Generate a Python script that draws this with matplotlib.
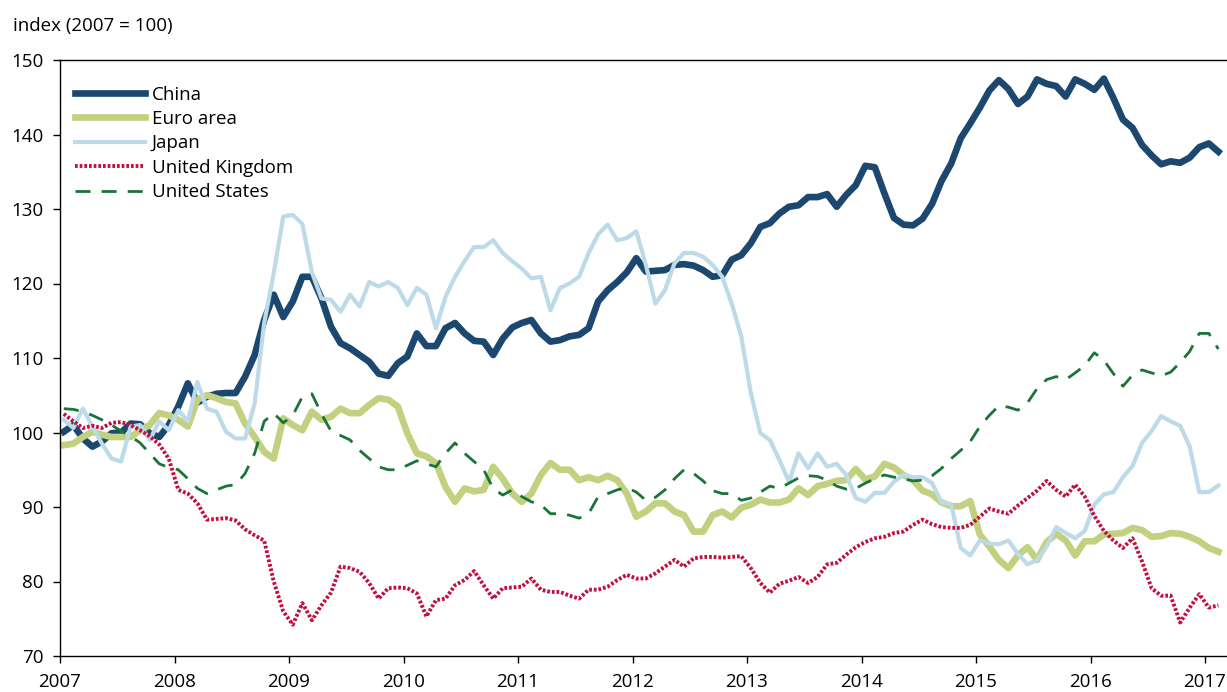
import numpy as np
import matplotlib.pyplot as plt

plt.rcParams['font.family'] = ['Open Sans', 'DejaVu Sans']

# monthly index values, Jan 2007 .. Feb 2017 (2007 = 100)
china = [100.1, 101.0, 99.2, 98.1, 98.8, 99.9, 100.0, 101.2, 101.1, 99.9, 99.4, 101.0,
         103.5, 106.6, 104.0, 104.8, 105.2, 105.3, 105.3, 107.5, 110.4, 115.1, 118.5, 115.5,
         117.6, 120.9, 120.9, 118.0, 114.2, 112.0, 111.3, 110.4, 109.5, 107.9, 107.6, 109.3,
         110.2, 113.3, 111.6, 111.6, 114.0, 114.7, 113.3, 112.3, 112.2, 110.4, 112.6, 114.1,
         114.7, 115.1, 113.3, 112.2, 112.4, 112.9, 113.1, 114.0, 117.6, 119.1, 120.2, 121.5,
         123.4, 121.6, 121.7, 121.8, 122.5, 122.6, 122.4, 121.8, 120.9, 121.1, 123.2, 123.8,
         125.4, 127.6, 128.1, 129.4, 130.3, 130.5, 131.6, 131.6, 132.0, 130.3, 131.9, 133.2,
         135.8, 135.6, 132.1, 128.8, 127.9, 127.8, 128.7, 130.7, 133.8, 136.1, 139.5, 141.5,
         143.6, 145.9, 147.3, 146.1, 144.1, 145.1, 147.4, 146.8, 146.5, 145.1, 147.4, 146.8,
         146.0, 147.5, 144.9, 142.0, 140.9, 138.6, 137.2, 136.0, 136.4, 136.2, 136.9, 138.3,
         138.8, 137.7]

euro = [98.3, 98.5, 99.4, 100.1, 99.7, 99.4, 99.4, 99.4, 100.3, 101.0, 102.6, 102.3,
        101.7, 100.8, 104.4, 105.0, 104.6, 104.1, 103.9, 101.2, 99.4, 97.4, 96.5, 101.9,
        101.0, 100.3, 102.8, 101.7, 102.1, 103.2, 102.6, 102.6, 103.7, 104.6, 104.4, 103.5,
        99.9, 97.2, 96.8, 95.9, 92.7, 90.7, 92.5, 92.1, 92.3, 95.4, 93.8, 91.8,
        90.7, 91.8, 94.3, 95.9, 95.0, 95.0, 93.6, 94.0, 93.6, 94.2, 93.6, 91.8,
        88.7, 89.4, 90.5, 90.5, 89.4, 88.9, 86.7, 86.7, 88.9, 89.4, 88.6, 89.9,
        90.3, 91.0, 90.6, 90.6, 91.0, 92.5, 91.6, 92.8, 93.1, 93.5, 93.6, 95.1,
        93.7, 94.1, 95.8, 95.3, 94.3, 93.6, 92.2, 91.7, 90.6, 90.1, 90.1, 90.8,
        86.3, 84.7, 82.9, 81.8, 83.5, 84.6, 82.9, 85.3, 86.4, 85.5, 83.5, 85.4,
        85.4, 86.3, 86.4, 86.5, 87.2, 86.9, 86.0, 86.1, 86.5, 86.4, 86.0, 85.4,
        84.5, 84.0]

japan = [101.7, 100.6, 103.2, 100.8, 98.5, 96.5, 96.1, 100.8, 101.0, 99.0, 101.5, 100.3,
         103.0, 101.5, 106.8, 103.2, 102.8, 100.1, 99.2, 99.2, 103.9, 114.7, 121.4, 129.0,
         129.2, 128.0, 121.5, 118.0, 117.8, 116.2, 118.5, 116.9, 120.2, 119.6, 120.2, 119.4,
         117.1, 119.4, 118.5, 114.0, 118.2, 120.9, 123.0, 124.9, 124.9, 125.8, 124.1, 123.0,
         122.0, 120.7, 120.9, 116.4, 119.4, 120.0, 120.9, 124.1, 126.6, 127.9, 125.8, 126.1,
         127.0, 122.5, 117.3, 119.1, 122.7, 124.1, 124.1, 123.6, 122.5, 120.9, 117.3, 112.9,
         105.3, 99.9, 99.0, 96.3, 93.4, 97.2, 95.2, 97.2, 95.4, 95.8, 94.3, 91.2,
         90.7, 91.9, 91.9, 93.4, 94.3, 94.0, 94.0, 93.2, 90.6, 90.4, 84.5, 83.5,
         85.5, 85.1, 85.0, 85.5, 83.7, 82.3, 82.9, 84.7, 87.3, 86.5, 85.8, 86.8,
         90.3, 91.7, 92.0, 94.0, 95.5, 98.6, 100.2, 102.2, 101.5, 100.9, 98.1, 92.0,
         92.0, 92.9]

uk = [102.5, 101.5, 100.6, 100.9, 100.6, 101.3, 101.4, 101.0, 100.3, 99.5, 98.4, 96.5,
      92.3, 91.8, 90.5, 88.3, 88.4, 88.5, 88.2, 87.0, 86.2, 85.5, 80.0, 76.0,
      74.2, 77.1, 74.8, 76.8, 78.5, 82.0, 81.8, 81.3, 79.8, 77.7, 79.1, 79.2,
      79.1, 78.4, 75.3, 77.5, 77.7, 79.5, 80.2, 81.4, 79.5, 77.7, 79.1, 79.2,
      79.3, 80.4, 78.9, 78.6, 78.6, 78.1, 77.7, 78.9, 78.9, 79.3, 80.2, 80.9,
      80.4, 80.4, 81.1, 82.0, 82.9, 82.0, 83.1, 83.3, 83.3, 83.2, 83.3, 83.4,
      81.8, 79.8, 78.5, 79.7, 80.1, 80.6, 79.8, 80.6, 82.3, 82.5, 83.6, 84.6,
      85.3, 85.8, 86.0, 86.5, 86.7, 87.6, 88.3, 87.7, 87.3, 87.2, 87.2, 87.6,
      88.7, 89.8, 89.4, 89.1, 90.2, 91.2, 92.2, 93.5, 92.3, 91.4, 93.0, 91.4,
      88.8, 86.8, 85.5, 84.5, 85.8, 82.7, 79.1, 78.1, 78.1, 74.5, 76.5, 78.3,
      76.5, 76.8]

us = [103.2, 103.1, 102.8, 102.3, 101.7, 101.0, 100.2, 99.5, 98.6, 97.2, 95.8, 95.3,
      95.0, 93.8, 92.5, 91.8, 92.3, 92.8, 93.0, 94.5, 97.2, 101.5, 102.6, 101.3,
      102.3, 104.8, 105.2, 102.5, 100.2, 99.6, 99.0, 97.6, 96.5, 95.4, 95.0, 95.0,
      95.6, 96.2, 95.8, 95.4, 97.2, 98.6, 97.2, 96.1, 95.0, 92.5, 91.6, 92.3,
      91.4, 90.7, 90.3, 89.1, 89.1, 88.9, 88.5, 89.1, 91.4, 91.8, 92.3, 92.6,
      92.0, 90.9, 91.3, 92.3, 93.8, 95.0, 94.5, 93.5, 92.2, 91.8, 91.8, 90.9,
      91.2, 92.0, 92.8, 92.5, 93.2, 93.9, 94.2, 94.1, 93.6, 92.8, 92.4, 92.5,
      93.2, 93.8, 94.3, 94.0, 93.8, 93.5, 93.6, 94.2, 95.2, 96.5, 97.6, 98.8,
      100.8, 102.3, 103.6, 103.4, 103.0, 104.0, 105.9, 107.1, 107.5, 107.1, 108.0, 109.0,
      110.7, 109.7, 107.9, 106.2, 107.7, 108.4, 108.0, 107.6, 108.1, 109.4, 110.9, 113.3,
      113.3, 111.2]

years = list(range(2007, 2018))

months = np.arange(len(china))
t = 2007 + (months + 0.4) / 12

fig = plt.figure(figsize=(12.27, 6.92), dpi=100)
ax = fig.add_axes([60/1227, 36/692, 1167/1227, 596/692])

ax.plot(t, china, c='#1c4870', lw=4.8, label='China')
ax.plot(t, euro, c='#c2d17f', lw=4.8, label='Euro area')
ax.plot(t, japan, c='#bcdae8', lw=3.0, label='Japan')
ax.plot(t, uk, c='#c0103f', lw=2.8, ls=(0, (0.7, 0.5)), label='United Kingdom')
ax.plot(t, us, c='#1a7437', lw=2.0, ls=(0, (5.4, 4.0)), label='United States')

ax.set_xlim(2007, 2007 + 1167/114.5)
ax.set_ylim(70, 150)
ax.set_xticks(years)
ax.set_yticks(range(70, 151, 10))
ax.tick_params(direction='out', length=5, width=1, labelsize=13.5)
ax.tick_params(axis='x', pad=7)
ax.tick_params(axis='y', pad=7)
for s in ['left', 'bottom', 'top']:
    ax.spines[s].set_linewidth(1.0)
ax.spines['right'].set_visible(False)

ax.legend(loc='upper left', bbox_to_anchor=(15/1167, 0.957), frameon=False,
          fontsize=13.5, handlelength=3.73, handletextpad=0.37, labelspacing=0.34,
          borderpad=0, borderaxespad=0)

fig.text(13/1227, 1 - 26/692, 'index (2007 = 100)', fontsize=13.5, va='center', ha='left')

fig.savefig('out.png', dpi=100)
